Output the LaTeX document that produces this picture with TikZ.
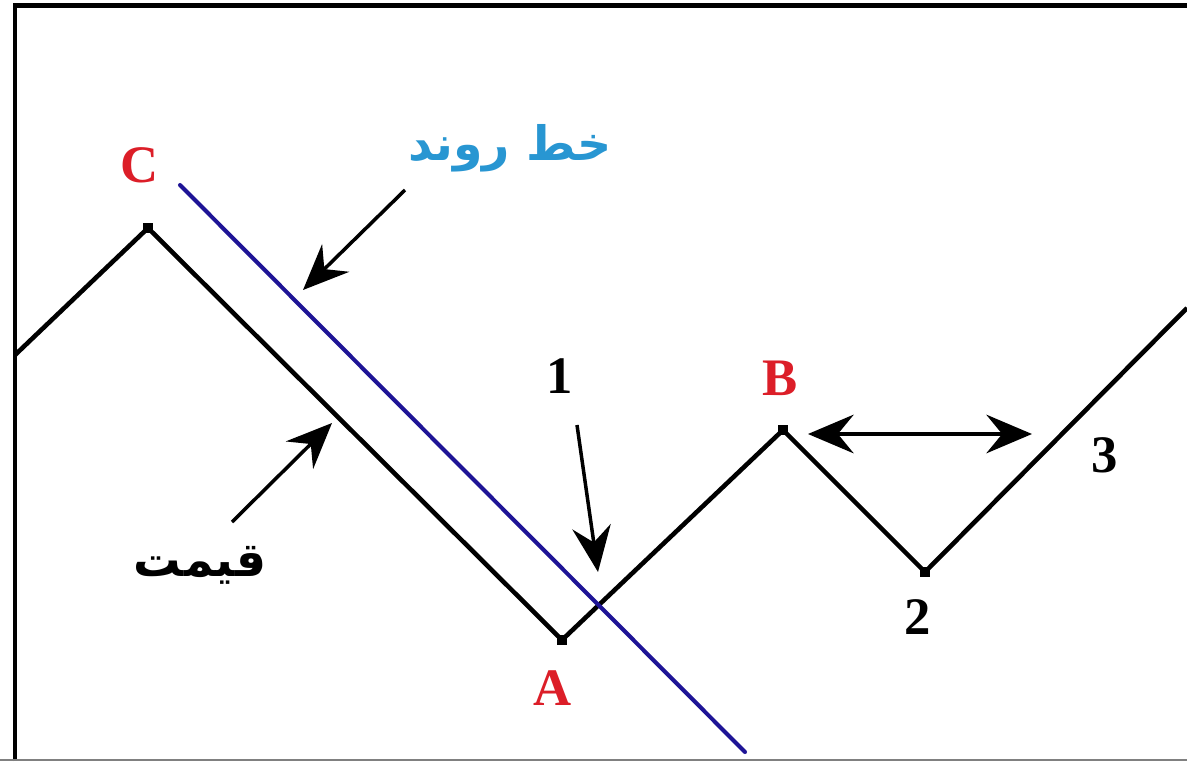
\documentclass[tikz,border=0pt]{standalone}
\usepackage{fontspec}
\setmainfont{Liberation Serif}
\newfontfamily\arabicfont[Script=Arabic]{DejaVu Sans}
\TeXXeTstate=1
\usetikzlibrary{arrows.meta}

\definecolor{trendblue}{RGB}{30,20,150}
\definecolor{labelblue}{RGB}{40,150,210}
\definecolor{labelred}{RGB}{220,30,40}

\begin{document}
\begin{tikzpicture}[
  x=0.02cm, y=-0.02cm,
  >={Stealth[length=26pt,width=22pt,inset=9pt]},
  frame/.style={line width=2.5pt},
  price/.style={line width=2.6pt, line join=miter},
  trend/.style={line width=2.3pt, trendblue, line cap=round},
  pointer/.style={->, line width=2pt},
  vertex/.style={rectangle, fill=black, inner sep=0pt, minimum size=5.5pt},
  letter/.style={font=\fontsize{30}{34}\selectfont\bfseries, text=labelred},
  number/.style={font=\fontsize{30}{34}\selectfont\bfseries},
  farsi/.style={font=\arabicfont\bfseries\fontsize{27}{30}\selectfont}
]
  \useasboundingbox (0,0) rectangle (1187,761);
  \fill[white] (0,0) rectangle (1187,761);

  % frame
  \draw[frame] (15,761) -- (15,5.5) -- (1187,5.5);
  \draw[gray, line width=0.8pt] (0,760) -- (1187,760);

  % price path
  \coordinate (start) at (15,355);
  \coordinate (C) at (148,228);
  \coordinate (A) at (562,640);
  \coordinate (B) at (783,430);
  \coordinate (low2) at (925,572);
  \coordinate (end) at (1187,308);
  \draw[price] (start) -- (C) -- (A) -- (B) -- (low2) -- (end);
  \foreach \p in {C,A,B,low2}
    \node[vertex] (dot\p) at (\p) {};

  % trend line
  \coordinate (trendtop) at (180,185);
  \coordinate (trendbot) at (745,752);
  \draw[trend] (trendtop) -- (trendbot);

  % labels
  \node[letter] (labC) at (140,165) {C};
  \node[letter] (labA) at (553,688) {A};
  \node[letter] (labB) at (780,378) {B};
  \node[number] (lab1) at (560,376) {1};
  \node[number] (lab2) at (918,617) {2};
  \node[number] (lab3) at (1105,455) {3};
  \node[farsi, text=labelblue] (labtrend) at (510,148) {\beginR خط روند\endR};
  \node[farsi] (labprice) at (200,565) {\beginR قیمت\endR};

  % pointers
  \coordinate (trendtail) at (405,190);
  \coordinate (trendtip) at (303,290);
  \draw[pointer] (trendtail) -- (trendtip);
  \coordinate (pricetail) at (232,522);
  \coordinate (pricetip) at (332,423);
  \draw[pointer] (pricetail) -- (pricetip);
  \coordinate (onetail) at (577,425);
  \coordinate (onetip) at (598,572);
  \draw[pointer] (onetail) -- (onetip);
  \coordinate (gapleft) at (808,434);
  \coordinate (gapright) at (1032,434);
  \draw[pointer, <->] (gapleft) -- (gapright);
\end{tikzpicture}
\end{document}
